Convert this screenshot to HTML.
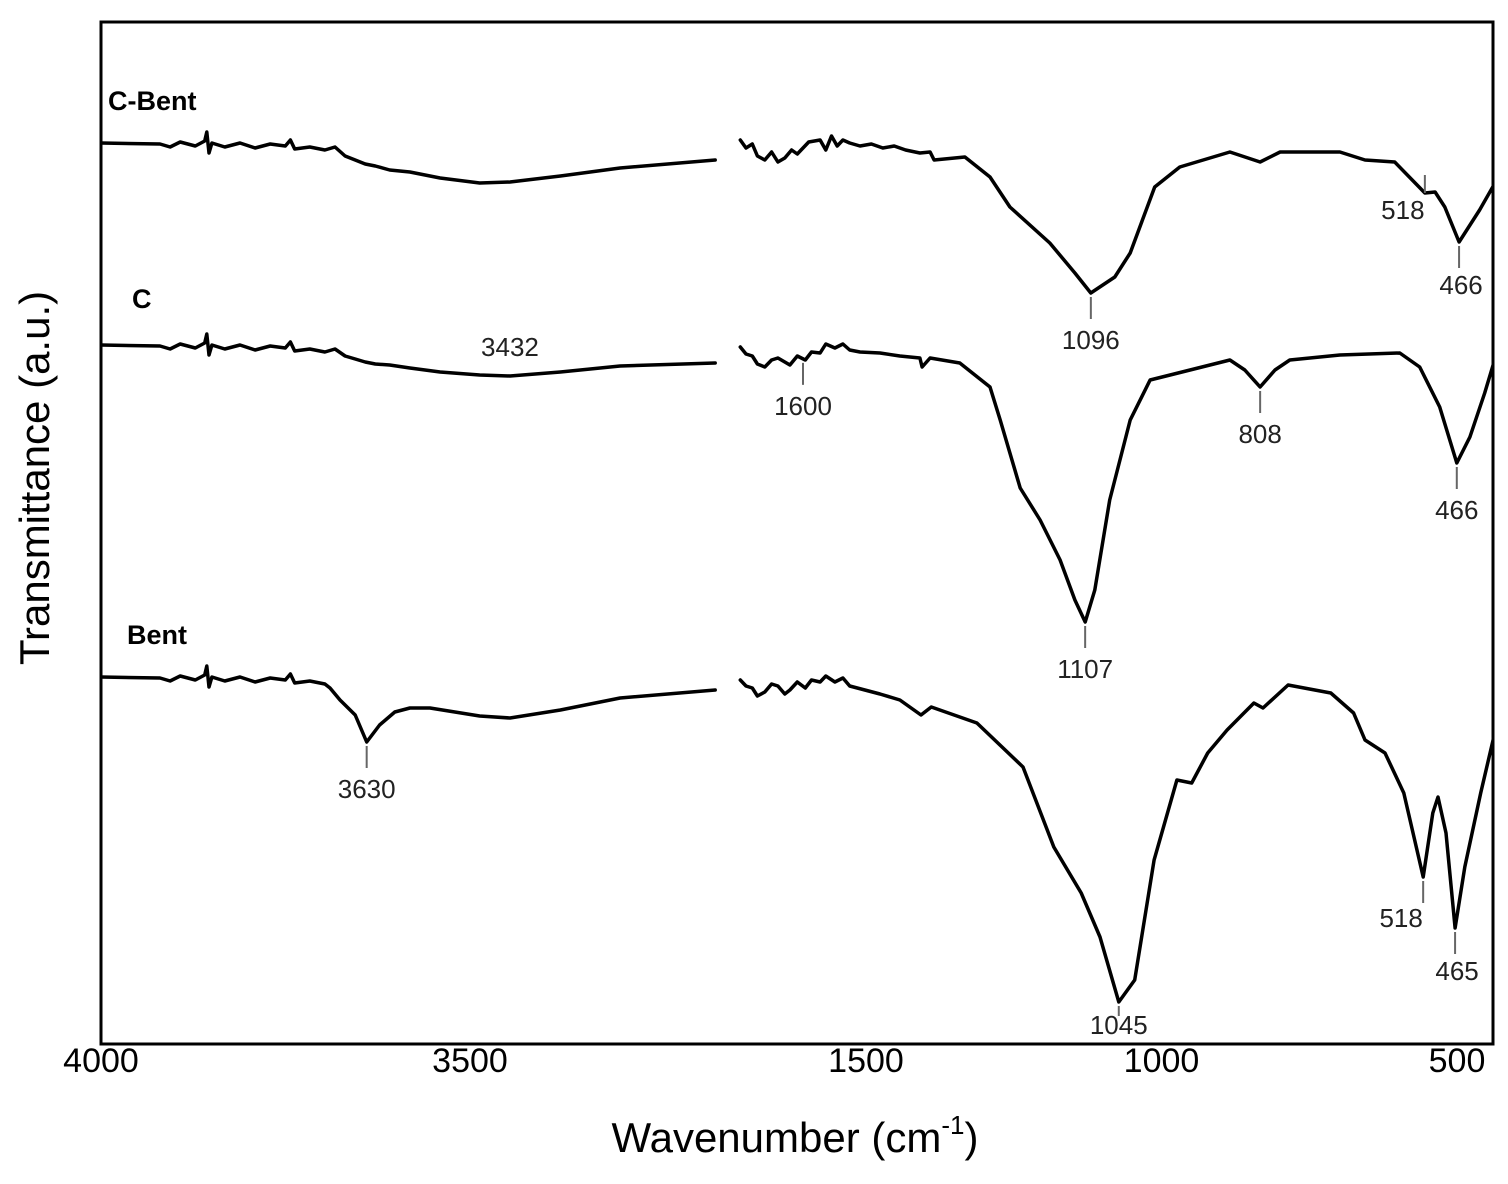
<!DOCTYPE html>
<html><head><meta charset="utf-8">
<style>
html,body{margin:0;padding:0;background:#fff;}
svg{display:block;}
text{font-family:"Liberation Sans",sans-serif;fill:#000;}
.tick{font-family:"Liberation Sans Narrow","Liberation Sans",sans-serif;font-size:34px;}
.ann{font-size:26px;fill:#222;}
.lbl{font-size:27px;font-weight:bold;}
</style></head>
<body>
<svg id="chart" width="1508" height="1184" viewBox="0 0 1508 1184">
<defs><clipPath id="clip"><rect x="101" y="22" width="1391" height="1022"/></clipPath></defs>
<g id="plot" clip-path="url(#clip)"></g>
<g id="annots"></g>
<rect x="101" y="22" width="1392" height="1022" fill="none" stroke="#000" stroke-width="3"/>
<text x="38" y="478" transform="rotate(-90 38 478)" text-anchor="middle" dominant-baseline="middle" font-size="42">Transmittance (a.u.)</text>
<text x="795" y="1152" text-anchor="middle" font-size="42">Wavenumber (cm<tspan font-size="26" dy="-18">-1</tspan><tspan dy="18">)</tspan></text>
<text class="lbl" x="108" y="110">C-Bent</text>
<text class="lbl" x="132" y="308">C</text>
<text class="lbl" x="127" y="644">Bent</text>
</svg>
<script>
const leftTicks = [4000, 3500];
const rightTicks = [1500, 1000, 500];
const seriesNames = ["C-Bent", "C", "Bent"];
// vertical offsets (a.u., larger = lower transmittance)
const cbentLeftX = [4000,3918,3904,3890,3869,3856,3853,3850,3846,3828,3807,3786,3765,3744,3737,3731,3710,3689,3675,3661,3647,3633,3619,3599,3571,3529,3474,3432,3362,3279,3147];
const cbentLeftY = [121,122,125,120,124,119,110,131,121,125,121,126,122,124,118,127,125,128,125,134,138,142,144,148,150,156,161,160,154,146,138];
const cbentRightX = [1710,1700,1689,1680,1667,1655,1644,1632,1620,1610,1600,1590,1570,1560,1550,1540,1530,1518,1500,1480,1460,1440,1420,1395,1377,1370,1316,1272,1237,1167,1123,1095,1053,1026,983,939,851,798,763,658,614,562,509,491,474,449,413,383];
const cbentRightY = [118,126,122,134,138,130,140,136,128,132,126,120,118,128,114,124,118,121,124,122,126,124,128,131,130,138,135,155,185,221,251,271,255,231,165,145,130,140,130,130,138,140,171,170,185,220,188,158];
const cLeftX = cbentLeftX.slice();
const cLeftY = [323,324,327,322,326,321,312,333,323,327,323,328,324,326,320,329,327,330,327,334,337,340,342,343,346,350,353,354,350,344,341];
const cRightX = [1710,1700,1689,1680,1667,1655,1644,1632,1623,1610,1596,1585,1570,1560,1544,1530,1518,1500,1465,1430,1395,1391,1377,1325,1272,1254,1237,1219,1184,1149,1123,1105,1088,1062,1026,991,956,851,825,798,772,746,658,553,518,483,453,430,404,383];
const cRightY = [325,332,334,342,345,338,336,340,343,334,338,330,331,322,326,322,328,330,331,334,336,345,336,341,365,398,431,466,498,538,578,600,568,478,398,358,353,338,348,365,348,338,333,331,345,385,441,415,371,331];
const bentLeftX = [4000,3918,3904,3890,3869,3856,3853,3850,3846,3828,3807,3786,3765,3744,3737,3731,3710,3689,3682,3668,3647,3631,3613,3592,3571,3543,3474,3432,3362,3279,3147];
const bentLeftY = [655,656,659,654,658,653,644,665,655,659,655,660,656,658,652,661,659,662,666,678,693,720,703,690,686,686,694,696,688,676,668];
const bentRightX = [1710,1700,1689,1680,1667,1655,1644,1632,1623,1610,1596,1585,1570,1560,1544,1530,1518,1465,1430,1393,1375,1295,1214,1160,1112,1079,1046,1018,984,944,918,890,856,809,793,749,674,634,614,579,546,512,495,486,472,456,439,411,388,383];
const bentRightY = [658,664,666,674,670,662,664,672,668,660,666,658,660,654,660,656,664,672,678,693,685,701,745,825,871,915,980,958,838,758,761,731,708,681,686,663,671,691,718,731,771,855,791,775,811,906,845,771,715,678];
const leftData = [[cbentLeftX,cbentLeftY],[cLeftX,cLeftY],[bentLeftX,bentLeftY]];
const rightData = [[cbentRightX,cbentRightY],[cRightX,cRightY],[bentRightX,bentRightY]];
const peakWn = [1096,518,466,3432,1600,808,466,1107,3630,1045,518,465];
const peakSeries = [0,0,0,1,1,1,1,1,2,2,2,2];
const peakLabels = ["1096","518","466","3432","1600","808","466","1107","3630","1045","518","465"];

const xL = wn => 101 + (4000 - wn) * 0.72;
const xR = wn => 860 + (1500 - wn) * 0.57;
const tickL = wn => 101 + (4000 - wn) * 0.738;
const tickR = wn => 866 + (1500 - wn) * 0.591;
const yS = v => 22 + v;

const NS = "http://www.w3.org/2000/svg";
const svg = document.getElementById("chart");
const plot = document.getElementById("plot");
const annots = document.getElementById("annots");
function mk(tag, attrs){const e=document.createElementNS(NS,tag);for(const k in attrs)e.setAttribute(k,attrs[k]);return e;}

function localMin(xs, ys, wn, tol){
  let best=null, bx=wn;
  for(let i=0;i<xs.length;i++){ if(Math.abs(xs[i]-wn)<=tol && (best===null||ys[i]>best)){best=ys[i];bx=xs[i];} }
  if(best===null){
    for(let i=0;i<xs.length-1;i++){ if(wn<=xs[i]&&wn>=xs[i+1]){const t=(xs[i]-wn)/(xs[i]-xs[i+1]);return [wn, ys[i]+t*(ys[i+1]-ys[i])];} }
    return [wn, ys[ys.length-1]];
  }
  return [bx,best];
}

for(let s=0;s<3;s++){
  const [lx,ly]=leftData[s];
  const [rx,ry]=rightData[s];
  const d1=lx.map((w,i)=>(i?"L":"M")+xL(w).toFixed(1)+","+yS(ly[i]).toFixed(1)).join("");
  const p1=mk("path",{d:d1,fill:"none",stroke:"#000","stroke-width":3.5,"stroke-linejoin":"round","stroke-linecap":"round"});
  
  
  plot.appendChild(p1);
  const d2=rx.map((w,i)=>(i?"L":"M")+xR(w).toFixed(1)+","+yS(ry[i]).toFixed(1)).join("");
  const p2=mk("path",{d:d2,fill:"none",stroke:"#000","stroke-width":3.5,"stroke-linejoin":"round","stroke-linecap":"round"});
  
  
  plot.appendChild(p2);
}

leftTicks.forEach(t=>{
  const e=mk("text",{x:tickL(t),y:1072,"text-anchor":"middle",class:"tick"});e.textContent=t;
  
  
  svg.appendChild(e);
});
rightTicks.forEach(t=>{
  const e=mk("text",{x:tickR(t),y:1072,"text-anchor":"middle",class:"tick"});e.textContent=t;
  
  
  svg.appendChild(e);
});

peakWn.forEach((w,i)=>{
  const s=peakSeries[i];
  const left = w>2000;
  const d = left ? leftData[s] : rightData[s];
  const lab = peakLabels[i];
  const tol = (lab==="3432"||lab==="1600") ? 0 : 20;
  const [pw, v] = localMin(d[0], d[1], w, tol);
  const x = left ? xL(pw) : xR(pw), y = yS(v);
  let lx=x, ly=y+56, drawLine=true;
  if(lab==="3432"){ly=y-20;drawLine=false;}
  if(lab==="518"){lx=x-22;ly=y+(s===0?54:50);}
  if(lab==="466"&&s===0){lx=x+2;ly=y+52;}
  if(lab==="465"){lx=x+2;ly=y+52;}
  if(lab==="1045"){ly=y+32;}
  if(drawLine){
    const ln=mk("line",{x1:x,y1:y+4,x2:x,y2:y+(lab==="1045"?14:26),stroke:"#666","stroke-width":2});
    if(lab==="518"&&s===0){ln.setAttribute("y1",y-18);ln.setAttribute("y2",y);}
    
    
    annots.appendChild(ln);
  }
  if(lab==="518"&&s===0){ly=y+26;lx=x-22;}
  const t=mk("text",{x:lx,y:ly,"text-anchor":"middle",class:"ann"});t.textContent=lab;
  
  
  annots.appendChild(t);
});
</script>
</body></html>
